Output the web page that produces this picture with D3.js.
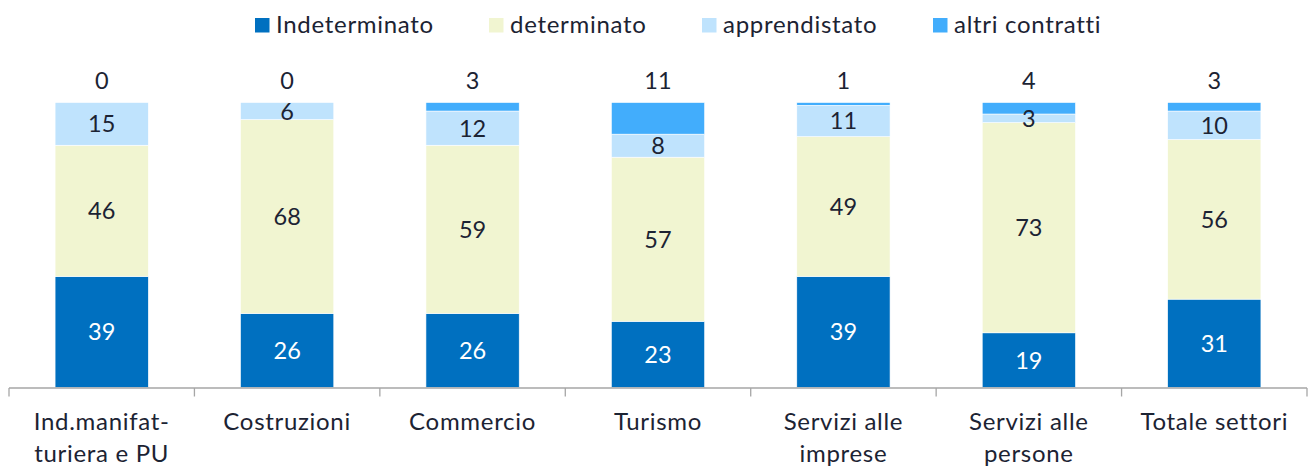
<!DOCTYPE html>
<html>
<head>
<meta charset="utf-8">
<script src="https://cdn.jsdelivr.net/npm/d3@7"></script>
<style>
  html, body { margin: 0; padding: 0; background: #fff; }
  svg { display: block; }
  text { font-family: Lato, "Open Sans", sans-serif; fill: #1c2333; }
</style>
</head>
<body>
<svg id="chart" width="1312" height="466"></svg>
<script>
const categories = [
  ["Ind.manifat-", "turiera e PU"],
  ["Costruzioni"],
  ["Commercio"],
  ["Turismo"],
  ["Servizi alle", "imprese"],
  ["Servizi alle", "persone"],
  ["Totale settori"]
];
const seriesNames = ["Indeterminato", "determinato", "apprendistato", "altri contratti"];
const indeterminato = [39, 26, 26, 23, 39, 19, 31];
const determinato   = [46, 68, 59, 57, 49, 73, 56];
const apprendistato = [15, 6, 12, 8, 11, 3, 10];
const altri         = [0, 0, 3, 11, 1, 4, 3];
const colors = ["#0070c0", "#f1f5d1", "#bfe3fd", "#42adfc"];

const svg = d3.select("#chart");
const x0 = 9, x1 = 1307, yTop = 102.5, yBot = 387.5;

const data = categories.map((c, i) => ({
  key: i,
  "Indeterminato": indeterminato[i],
  "determinato": determinato[i],
  "apprendistato": apprendistato[i],
  "altri contratti": altri[i]
}));

const stack = d3.stack().keys(seriesNames).offset(d3.stackOffsetExpand);
const stacked = stack(data);

const x = d3.scaleBand().domain(d3.range(categories.length)).range([x0, x1]).paddingInner(0).paddingOuter(0);
const y = d3.scaleLinear().domain([0, 1]).range([yBot, yTop]);
const barW = x.bandwidth() * 0.503;

// bars
const layers = svg.append("g").selectAll("g").data(stacked).join("g")
  .attr("fill", (d, i) => colors[i]);
layers.selectAll("rect").data(d => d).join("rect")
  .attr("x", (d, i) => x(i) + (x.bandwidth() - barW) / 2)
  .attr("width", barW)
  .attr("y", d => y(d[1]))
  .attr("height", d => Math.max(0, y(d[0]) - y(d[1])))
  .attr("stroke", "#ffffff")
  .attr("stroke-width", 0.6);

// labels inside segments (first three series)
stacked.forEach((layer, si) => {
  if (si === 3) return;
  svg.append("g").selectAll("text").data(layer).join("text")
    .attr("x", (d, i) => x(i) + x.bandwidth() / 2)
    .attr("y", d => (y(d[0]) + y(d[1])) / 2)
    .attr("dy", "0.36em")
    .attr("text-anchor", "middle")
    .attr("font-size", 23.5)
    .style("fill", si === 0 ? "#ffffff" : "#1c2333")
    .text((d, i) => [indeterminato, determinato, apprendistato][si][i]);
});

// altri contratti labels above bars
svg.append("g").selectAll("text").data(stacked[3]).join("text")
  .attr("x", (d, i) => x(i) + x.bandwidth() / 2)
  .attr("y", d => y(d[1]) - 14)
  .attr("text-anchor", "middle")
  .attr("font-size", 23.5)
  .text((d, i) => altri[i]);

// x axis
const axisG = svg.append("g");
axisG.append("line")
  .attr("x1", x0).attr("x2", x1).attr("y1", yBot + 0.5).attr("y2", yBot + 0.5)
  .attr("stroke", "#a6a6a6").attr("stroke-width", 1.3);
const tickPos = d3.range(categories.length + 1).map(i => x0 + i * x.bandwidth());
axisG.selectAll("line.tick").data(tickPos).join("line")
  .attr("class", "tick")
  .attr("x1", d => d).attr("x2", d => d)
  .attr("y1", yBot + 0.5).attr("y2", yBot + 9)
  .attr("stroke", "#a6a6a6").attr("stroke-width", 1.3);

axisG.selectAll("text.cat").data(categories).join("text")
  .attr("class", "cat")
  .attr("x", (d, i) => x(i) + x.bandwidth() / 2)
  .attr("y", 430)
  .attr("text-anchor", "middle")
  .attr("font-size", 24)
  .attr("letter-spacing", 0.7)
  .each(function(d) {
    const t = d3.select(this);
    d.forEach((line, k) => {
      t.append("tspan").attr("x", t.attr("x")).attr("dy", k === 0 ? 0 : 32).text(line);
    });
  });

// legend
const legendX = [255, 489, 702, 933];
const lg = svg.append("g").selectAll("g").data(seriesNames).join("g")
  .attr("transform", (d, i) => `translate(${legendX[i]},0)`);
lg.append("rect").attr("x", 0).attr("y", 18).attr("width", 14.5).attr("height", 14.5)
  .attr("fill", (d, i) => colors[i]);
lg.append("text").attr("x", 21).attr("y", 33).attr("font-size", 24)
  .attr("letter-spacing", 0.7).text(d => d);
</script>
</body>
</html>
